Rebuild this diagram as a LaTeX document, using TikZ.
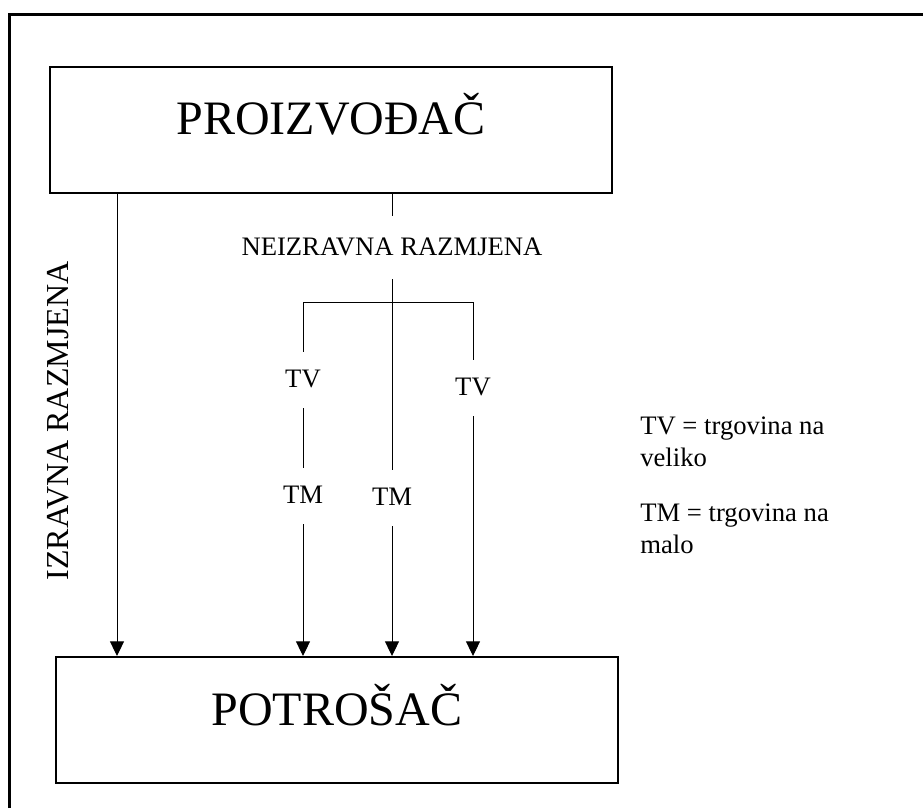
\documentclass[tikz,border=0pt]{standalone}
\usepackage{fontspec}
\setmainfont{Liberation Serif}
\usetikzlibrary{arrows.meta}

\begin{document}
\begin{tikzpicture}[x=0.75pt,y=-0.75pt,
  entity/.style={draw,line width=1.5pt,inner sep=0pt,minimum width=421.5pt,anchor=north west,font=\fontsize{36}{43}\selectfont},
  tag/.style={inner sep=0pt,anchor=base,text height=26.25pt,text depth=15.75pt,font=\fontsize{20}{24}\selectfont},
  key/.style={anchor=base west,align=left,inner sep=0pt,font=\fontsize{20}{24}\selectfont},
  flow/.style={line width=0.75pt},
  arr/.style={flow,-{Triangle[width=10.5pt,length=11pt]}}]
\useasboundingbox (0,0) rectangle (923,808);
\draw[line width=2.25pt] (9,808) -- (9,14) -- (923,14);

\node[entity,text height=50.25pt,text depth=44.25pt] (prod) at (49,66) {PROIZVOĐAČ};
\node[entity,text height=51pt,text depth=43.5pt] (cons) at (55,656) {POTROŠAČ};

% direct exchange
\coordinate (d) at (117,0);
\node[rotate=90,anchor=base,font=\fontsize{24}{29}\selectfont] (direct) at (68,421) {IZRAVNA RAZMJENA};
\draw[arr] (prod.south -| d) -- (cons.north -| d);

% indirect exchange
\node[tag,text height=29.25pt,text depth=18pt] (indirect) at (392,255) {NEIZRAVNA RAZMJENA};
\node[tag] (tv1) at (303,387) {TV};
\node[tag] (tm1) at (303,503) {TM};
\node[tag] (tm2) at (392,505) {TM};
\node[tag] (tv2) at (473,395) {TV};
\coordinate (split) at (392,302);
\draw[flow] (prod.south -| indirect) -- (indirect);
\draw[flow] (indirect) -- (tm2);
\draw[flow] (split -| tv1) -- (split -| tv2);
\draw[flow] (split -| tv1) -- (tv1);
\draw[flow] (tv1) -- (tm1);
\draw[flow] (split -| tv2) -- (tv2);
\draw[arr] (tm1) -- (cons.north -| tm1);
\draw[arr] (tm2) -- (cons.north -| tm2);
\draw[arr] (tv2) -- (cons.north -| tv2);

% legend
\node[key] (keytv) at (640,466) {TV = trgovina na\\veliko};
\node[key] (keytm) at (640,553) {TM = trgovina na\\malo};
\end{tikzpicture}
\end{document}
